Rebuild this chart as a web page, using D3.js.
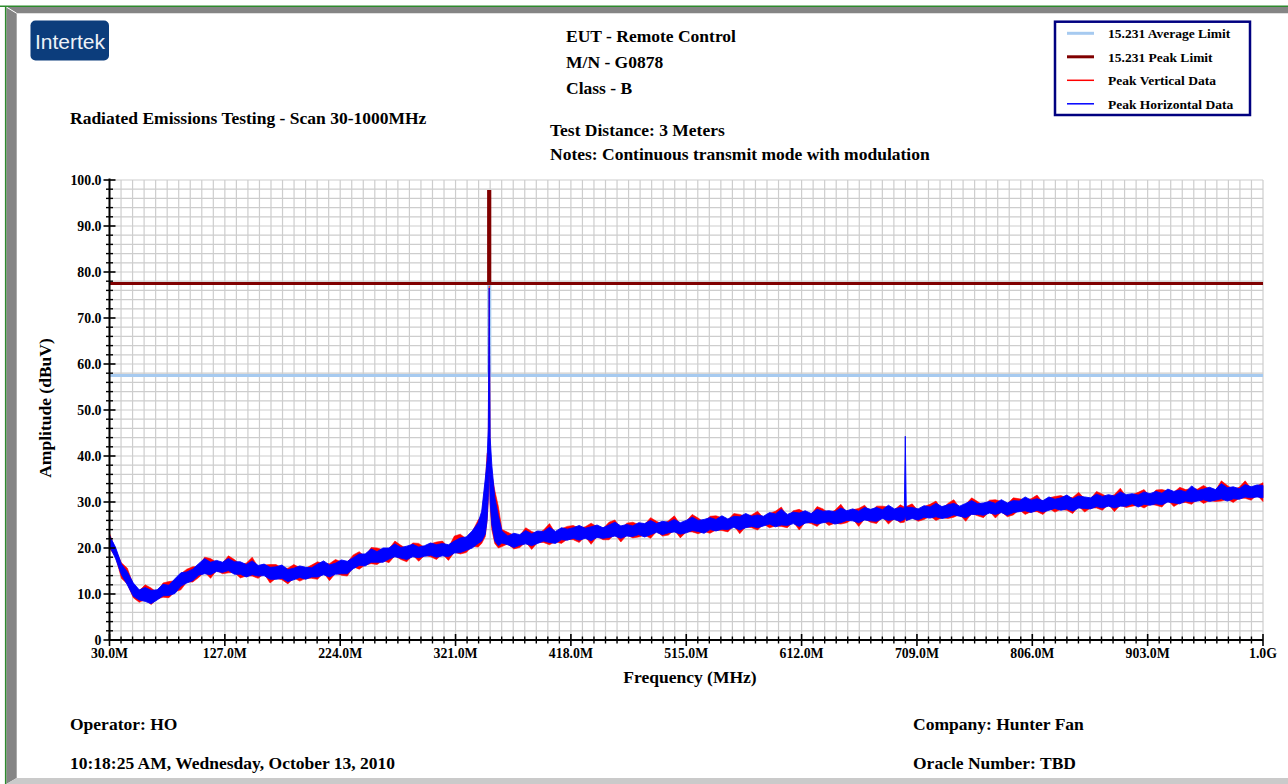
<!DOCTYPE html>
<html>
<head>
<meta charset="utf-8">
<script src="https://cdn.jsdelivr.net/npm/d3@7"></script>
<style>
  html, body { margin: 0; padding: 0; background: #fff; }
  svg { display: block; font-family: "Liberation Serif", "Times New Roman", serif; font-weight: bold; }
</style>
</head>
<body>
<svg id="chart" width="1288" height="784"></svg>
<script>
// sample frequencies (MHz) of the read-off scan envelope
const freqMHz = [
  30,35,40,45,50,55,60,65,70,75,80,85,90,95,100,105,110,115,120,125,130,135,140,145,150,155,160,165,170,175,
  180,185,190,195,200,205,210,215,220,225,230,235,240,245,250,255,260,265,270,275,280,285,290,295,300,305,310,315,320,325,
  330,335,340,
  343,346,347.5,348.5,349.3,350.1,351.5,354,357,
  360,365,370,375,380,385,390,395,400,405,410,415,420,425,430,435,440,445,450,455,460,465,470,475,480,485,490,495,500,505,
  510,515,520,525,530,535,540,545,550,555,560,565,570,575,580,585,590,595,600,605,610,615,620,625,630,635,640,645,650,655,
  660,665,670,675,680,685,690,695,
  698.4,699.2,700,
  705,710,715,720,725,730,735,740,745,750,755,760,765,770,775,780,785,790,795,800,805,810,815,820,825,830,835,840,845,850,
  855,860,865,870,875,880,885,890,895,900,905,910,915,920,925,930,935,940,945,950,955,960,965,970,975,980,985,990,995,1000
];

// Peak Vertical Data (red) - upper and lower edge of the trace band, dBuV
const vertHigh = [
  23.2,19.6,16.8,15.6,12.0,10.7,12.0,11.3,10.3,12.4,12.7,12.9,14.4,15.4,15.9,16.0,18.0,17.7,16.9,16.7,
  18.3,17.5,16.4,16.7,18.0,15.8,16.3,16.4,16.4,15.7,15.6,16.4,15.7,15.6,16.3,17.0,16.6,16.6,17.5,17.0,
  16.9,18.5,19.2,18.1,20.1,20.0,19.6,19.8,21.5,20.6,19.8,21.1,21.0,20.1,20.9,21.3,21.5,20.1,22.6,23.0,
  22.0,23.5,26.1,
  27,34,40.5,41,77,40,36,32.5,29,
  24.0,23.4,22.8,22.7,24.4,23.6,23.1,23.9,25.3,23.2,24.2,24.7,24.9,24.3,24.6,25.4,24.6,24.2,25.6,26.1,
  24.2,25.4,25.6,25.1,25.1,26.6,25.8,25.2,25.9,27.0,25.1,25.8,27.3,26.5,25.6,26.9,27.0,26.6,26.1,27.5,
  27.3,26.9,27.2,28.0,26.5,27.5,28.0,28.9,26.7,28.1,28.4,27.7,27.3,29.0,28.5,27.5,28.2,29.5,27.7,28.3,
  28.6,29.3,27.8,29.1,29.1,28.9,28.3,29.4,
  28.9,28.4,29.0,
  29.6,28.1,29.0,29.5,30.2,28.4,29.7,30.5,28.7,29.5,30.9,30.1,29.2,30.4,30.5,30.1,29.6,30.9,30.7,30.5,
  30.7,31.5,29.9,30.9,31.2,31.4,30.9,31.0,32.1,30.7,30.7,32.3,31.7,31.0,31.6,33.0,31.2,31.6,32.1,32.7,
  31.2,32.6,32.7,32.4,32.1,33.2,32.7,32.9,32.8,33.6,32.8,32.5,34.6,33.6,32.7,33.2,34.6,32.9,33.5,34.2
];
const vertLow = [
  19.9,18.2,13.4,12.2,9.2,8.2,8.8,7.7,8.9,9.3,9.2,10.5,10.9,12.6,12.6,13.6,14.8,13.4,15.1,14.4,
  14.6,14.7,13.5,13.9,13.9,13.4,14.4,12.4,13.4,13.1,12.2,13.5,12.8,13.4,13.4,13.2,14.6,12.9,14.5,14.1,
  13.9,15.9,15.4,16.3,16.6,16.4,17.3,16.8,18.3,17.5,17.0,18.5,17.1,18.4,18.1,17.5,18.7,17.3,19.1,18.7,
  19.0,20.4,20.2,
  21,22.5,26,30,38,29,24,21,20,
  20.3,20.9,19.8,20.1,21.3,19.7,21.2,21.2,20.7,21.4,21.0,21.9,21.8,21.2,22.5,20.8,22.5,21.8,21.8,23.0,
  21.3,22.8,22.2,22.4,22.8,22.1,23.6,22.6,22.8,23.9,22.2,23.5,23.5,23.1,23.6,23.2,23.9,23.8,23.5,24.9,
  23.1,24.6,24.4,23.9,25.2,24.4,24.8,24.7,24.4,25.7,23.9,25.6,25.3,24.7,25.9,24.9,25.4,25.2,25.5,26.3,
  24.7,26.3,25.6,25.3,26.8,25.2,26.4,25.5,
  25.6,26.4,25.9,
  26.6,25.8,26.2,26.9,26.0,26.6,26.4,26.7,27.3,25.8,27.5,27.0,26.6,28.0,26.5,27.9,26.8,27.2,28.3,27.3,
  27.9,27.9,27.3,28.6,27.8,28.4,28.2,27.5,29.1,27.8,28.7,28.7,28.2,29.5,27.9,29.3,28.8,29.1,29.3,28.7,
  29.5,29.3,28.9,30.4,29.0,29.8,29.9,29.5,30.6,29.7,30.3,30.1,30.2,30.6,29.9,30.8,30.8,30.4,31.5,30.1
];

// Peak Horizontal Data (blue)
const horizHigh = [
  22.7,20.2,16.5,14.8,12.4,10.9,11.4,10.8,10.9,12.1,11.9,13.3,14.6,14.8,15.4,16.6,17.7,16.9,17.3,16.9,
  17.7,17.0,17.0,16.4,17.2,16.2,16.5,15.8,15.9,16.3,15.3,15.6,16.1,15.8,15.7,16.5,17.2,16.3,16.7,17.4,
  17.1,17.9,18.7,18.7,19.8,19.2,20.0,20.0,20.9,20.1,20.4,20.8,20.2,20.5,21.1,20.7,21.0,20.7,21.5,22.2,
  22.4,23.7,25.5,
  28,35,39,46,76.5,44,38,31,27,
  23.7,22.6,23.2,22.9,23.8,23.1,23.7,23.6,24.5,23.6,24.4,24.1,24.4,24.9,24.3,24.6,25.0,24.4,25.0,25.6,
  24.8,25.1,24.8,25.5,25.3,26.0,25.3,25.8,25.6,26.2,25.5,26.0,26.7,26.0,26.2,26.6,26.2,27.0,26.3,26.9,
  26.8,27.5,26.9,27.2,26.9,27.7,27.4,28.4,27.3,27.8,27.6,28.1,27.5,28.4,28.0,28.1,27.9,28.7,28.1,28.5,
  28.0,28.8,28.4,28.8,28.3,29.3,28.5,28.8,
  28.6,44.3,28.9,
  28.8,28.5,29.2,28.9,29.7,29.0,29.4,29.7,29.1,29.7,30.3,29.6,29.8,30.1,29.7,30.5,29.8,30.3,30.2,31.1,
  30.4,30.7,30.3,31.1,30.6,30.9,31.5,30.7,31.3,31.1,30.9,31.7,31.2,31.6,31.3,32.2,31.6,31.8,31.5,32.2,
  31.8,32.3,31.9,32.8,32.3,32.6,32.2,33.5,32.5,32.8,33.2,32.7,34.0,33.1,33.3,32.9,33.8,33.3,33.7,33.6
];
const horizLow = [
  20.4,17.8,14.2,12.0,9.5,8.7,8.4,7.9,8.7,9.6,9.7,10.1,11.7,12.4,12.9,14.1,14.4,14.2,14.9,14.7,
  15.1,14.3,14.3,13.7,14.2,13.9,14.0,13.2,13.2,13.4,12.7,13.1,13.6,13.2,13.7,13.7,14.2,13.7,14.3,14.4,
  14.4,15.5,16.2,16.1,16.9,16.9,16.9,17.6,18.1,17.8,17.5,18.1,17.9,18.2,18.4,18.0,18.3,18.1,18.9,19.0,
  19.5,20.0,21.0,
  21.5,23,26,31,40,30,25,21.5,20.5,
  21.1,20.7,20.1,20.6,20.9,20.5,21.0,21.5,21.2,21.0,21.8,21.7,22.1,21.7,22.1,21.6,22.3,22.1,22.3,22.6,
  22.1,22.6,22.5,22.9,22.4,22.9,23.4,22.9,23.3,23.5,23.0,23.3,23.8,23.6,23.2,24.0,23.7,24.1,24.0,24.5,
  23.9,24.4,24.7,24.4,24.8,25.2,24.6,25.0,24.9,25.3,24.7,25.4,25.6,25.2,25.5,25.7,25.2,25.5,26.0,25.9,
  25.5,26.1,25.9,25.8,26.4,26.0,26.2,25.8,
  26.2,27.0,26.0,
  26.4,26.1,26.7,26.5,26.8,26.4,26.7,27.2,26.9,26.6,27.3,27.3,27.1,27.6,27.3,27.7,27.1,27.7,27.9,28.1,
  27.7,28.2,27.8,28.2,28.6,28.2,28.5,28.0,28.7,28.6,28.5,29.0,28.7,29.1,28.7,29.1,29.1,29.6,28.9,29.5,
  29.3,29.6,29.4,30.0,29.8,29.6,30.2,30.0,30.2,30.5,30.1,30.4,30.7,30.2,30.7,30.6,31.1,30.9,31.1,30.9
];

// 15.231 limits (step up at the fundamental)
const limitFreqMHz = [30, 348.8, 348.8, 349.8, 349.8, 1000];
const averageLimit = [57.5, 57.5, 77.5, 77.5, 57.5, 57.5];
const peakLimit = [77.5, 77.5, 97.5, 97.5, 77.5, 77.5];

const xTickValues = [30, 127, 224, 321, 418, 515, 612, 709, 806, 903, 1000];
const xTickLabels = ["30.0M", "127.0M", "224.0M", "321.0M", "418.0M", "515.0M", "612.0M", "709.0M", "806.0M", "903.0M", "1.0G"];
const yTickValues = [0, 10, 20, 30, 40, 50, 60, 70, 80, 90, 100];
const yTickLabels = ["0", "10.0", "20.0", "30.0", "40.0", "50.0", "60.0", "70.0", "80.0", "90.0", "100.0"];

const legendItems = [
  {name: "15.231 Average Limit", color: "#a6caf0", width: 3},
  {name: "15.231 Peak Limit", color: "#800000", width: 3},
  {name: "Peak Vertical Data", color: "#ff0000", width: 1.5},
  {name: "Peak Horizontal Data", color: "#0000ff", width: 1.5}
];

const svg = d3.select("#chart");

// page frame (bevel)
svg.append("polygon").attr("points", "6.3,7 1288,7 1288,13.3 16.7,13.3").attr("fill", "#858585");
svg.append("polygon").attr("points", "6.3,7 16.7,13.3 16.7,778 6.3,784").attr("fill", "#858585");
svg.append("polygon").attr("points", "6.3,784 16.7,778 1288,778 1288,784").attr("fill", "#cacaca");
svg.append("line").attr("x1", 6.3).attr("y1", 7).attr("x2", 16.7).attr("y2", 13.3)
  .attr("stroke", "#fff").attr("stroke-width", 1);
svg.append("line").attr("x1", 0).attr("x2", 1288).attr("y1", 6.3).attr("y2", 6.3)
  .attr("stroke", "#2d8a2d").attr("stroke-width", 1.4);
svg.append("line").attr("x1", 5.6).attr("x2", 5.6).attr("y1", 6).attr("y2", 784)
  .attr("stroke", "#2d8a2d").attr("stroke-width", 1.4);

// logo
svg.append("rect").attr("x", 30.5).attr("y", 20.5).attr("width", 78.5).attr("height", 40)
  .attr("rx", 5).attr("fill", "#0c3d7c");
svg.append("text").attr("x", 70).attr("y", 49).attr("text-anchor", "middle")
  .style("font-family", "'Liberation Sans', Arial, sans-serif").style("font-weight", "normal")
  .style("font-size", "21px").attr("fill", "#eef2f7").text("Intertek");

// header / footer texts
const bigText = (x, yy, s) => svg.append("text").attr("x", x).attr("y", yy)
  .style("font-size", "17.5px").attr("fill", "#000").text(s);
bigText(566, 42, "EUT - Remote Control");
bigText(566, 68, "M/N - G0878");
bigText(566, 94, "Class - B");
bigText(70, 124, "Radiated Emissions Testing - Scan 30-1000MHz");
bigText(550, 136, "Test Distance: 3 Meters");
bigText(550, 160, "Notes: Continuous transmit mode with modulation");
bigText(70, 730, "Operator: HO");
bigText(70, 769, "10:18:25 AM, Wednesday, October 13, 2010");
bigText(913, 730, "Company: Hunter Fan");
bigText(913, 769, "Oracle Number: TBD");

// legend
const legend = svg.append("g");
legend.append("rect").attr("x", 1055).attr("y", 21.7).attr("width", 195).attr("height", 93.3)
  .attr("fill", "#fff").attr("stroke", "#000080").attr("stroke-width", 2.5);
legendItems.forEach((d, i) => {
  const ly = 33.3 + i * 23.5;
  legend.append("line").attr("x1", 1067).attr("x2", 1094).attr("y1", ly).attr("y2", ly)
    .attr("stroke", d.color).attr("stroke-width", d.width);
  legend.append("text").attr("x", 1108).attr("y", ly + 5).style("font-size", "13.5px").text(d.name);
});

// scales
const x = d3.scaleLinear().domain([30, 1000]).range([109.5, 1263]);
const y = d3.scaleLinear().domain([0, 100]).range([640, 180]);

// grid: 10 divisions per major x step, 2 dB horizontally
const gridStep = 9.7;
const xGrid = d3.range(0, 101).map(i => 30 + i * gridStep);
const yGrid = d3.range(0, 101, 2);
const grid = svg.append("g").attr("stroke", "#cdcdcd").attr("stroke-width", 1.2);
grid.selectAll("line.v").data(xGrid).join("line").attr("class", "v")
  .attr("x1", d => x(d)).attr("x2", d => x(d)).attr("y1", y(0)).attr("y2", y(100));
grid.selectAll("line.h").data(yGrid).join("line").attr("class", "h")
  .attr("x1", x(30)).attr("x2", x(1000)).attr("y1", d => y(d)).attr("y2", d => y(d));

// limits
const limitLine = vals => d3.line()
  .x((d, i) => x(limitFreqMHz[i]))
  .y((d, i) => y(vals[i]))(limitFreqMHz);
svg.append("path").attr("d", limitLine(averageLimit)).attr("fill", "none")
  .attr("stroke", "#a6caf0").attr("stroke-width", 3);
svg.append("path").attr("d", limitLine(peakLimit)).attr("fill", "none")
  .attr("stroke", "#800000").attr("stroke-width", 3).attr("stroke-linejoin", "miter");

// traces
const band = (hi, lo) => d3.area()
  .x((d, i) => x(freqMHz[i]))
  .y0((d, i) => y(lo[i]))
  .y1((d, i) => y(hi[i]))(freqMHz);
svg.append("path").attr("d", band(vertHigh, vertLow))
  .attr("fill", "#ff0000").attr("stroke", "#ff0000").attr("stroke-width", 0.6);
svg.append("path").attr("d", band(horizHigh, horizLow))
  .attr("fill", "#0000ff").attr("stroke", "#0000ff").attr("stroke-width", 0.9);

// axes
const axes = svg.append("g").attr("stroke", "#000");
axes.append("line").attr("x1", x(30)).attr("x2", x(30)).attr("y1", y(100) - 1.5).attr("y2", y(0))
  .attr("stroke-width", 2);
axes.append("line").attr("x1", x(30)).attr("x2", x(1000)).attr("y1", y(0)).attr("y2", y(0))
  .attr("stroke-width", 2);
const xMinor = xGrid.filter((d, i) => i % 10 !== 0);
axes.selectAll("line.xmin").data(xMinor).join("line").attr("class", "xmin")
  .attr("x1", d => x(d)).attr("x2", d => x(d)).attr("y1", y(0) - 3.5).attr("y2", y(0) + 3.5)
  .attr("stroke-width", 1.4);
axes.selectAll("line.xmaj").data(xTickValues).join("line").attr("class", "xmaj")
  .attr("x1", d => x(d)).attr("x2", d => x(d)).attr("y1", y(0) - 6).attr("y2", y(0) + 6)
  .attr("stroke-width", 1.6);
const yMinor = yGrid.filter(d => d % 10 !== 0);
axes.selectAll("line.ymin").data(yMinor).join("line").attr("class", "ymin")
  .attr("x1", x(30) - 3.5).attr("x2", x(30) + 3.5).attr("y1", d => y(d)).attr("y2", d => y(d))
  .attr("stroke-width", 1.4);
axes.selectAll("line.ymaj").data(yTickValues).join("line").attr("class", "ymaj")
  .attr("x1", x(30) - 6).attr("x2", x(30) + 6).attr("y1", d => y(d)).attr("y2", d => y(d))
  .attr("stroke-width", 1.6);

svg.selectAll("text.xt").data(xTickValues).join("text").attr("class", "xt")
  .attr("x", d => x(d)).attr("y", 658).attr("text-anchor", "middle")
  .style("font-size", "13.8px").text((d, i) => xTickLabels[i]);
svg.selectAll("text.yt").data(yTickValues).join("text").attr("class", "yt")
  .attr("x", 101.5).attr("y", d => y(d) + 4.8).attr("text-anchor", "end")
  .style("font-size", "13.8px").text((d, i) => yTickLabels[i]);

// axis titles
svg.append("text").attr("x", 690).attr("y", 683).attr("text-anchor", "middle")
  .style("font-size", "17.5px").text("Frequency (MHz)");
svg.append("text").attr("transform", "translate(51,408) rotate(-90)").attr("text-anchor", "middle")
  .style("font-size", "17.5px").text("Amplitude (dBuV)");
</script>
</body>
</html>
